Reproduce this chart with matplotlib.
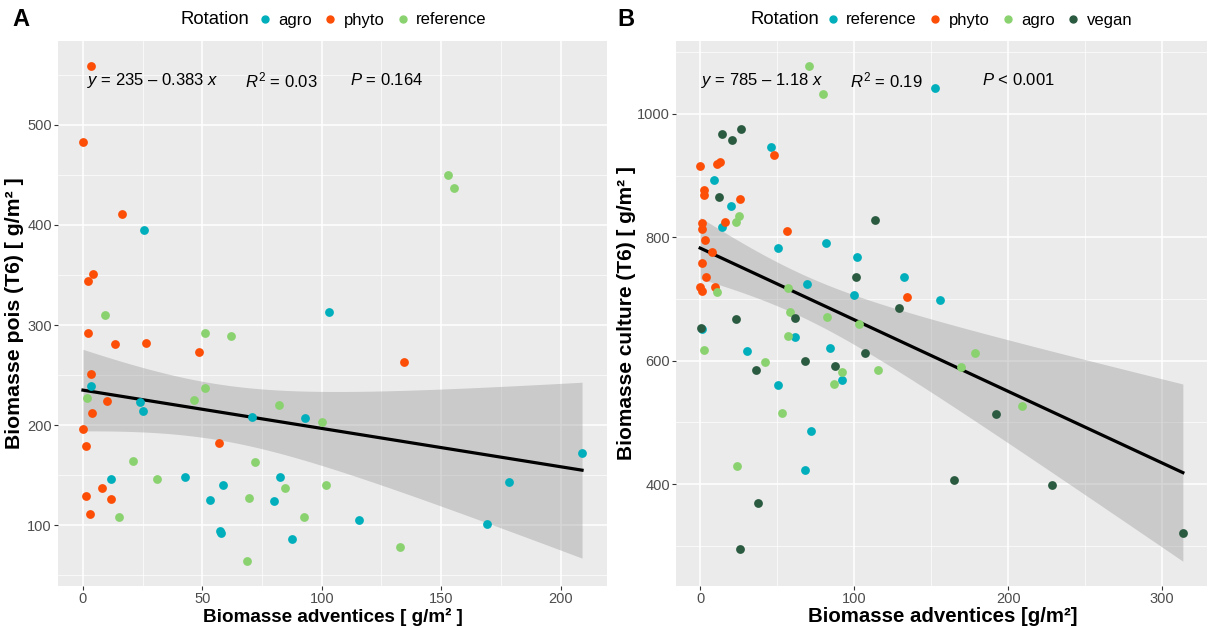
import matplotlib.pyplot as plt
from matplotlib.lines import Line2D
from matplotlib.ticker import FixedLocator
import numpy as np

plt.rcParams['font.family'] = ['Liberation Sans', 'DejaVu Sans']
plt.rcParams['mathtext.fontset'] = 'custom'
plt.rcParams['mathtext.rm'] = 'Liberation Sans'
plt.rcParams['mathtext.it'] = 'Liberation Sans:italic'

# --- panel A : pois ---
a_agro_x = [25.5, 103, 3.5, 23.7, 25, 70.8, 92.8, 11.6, 42.8, 58.6, 82.6, 53.4, 79.8, 57.3, 58, 87.6, 209, 115.6, 178.5, 169]
a_agro_y = [395, 313, 239, 223, 214, 208, 207, 146, 148, 140, 148, 125, 124, 94, 92, 86, 172, 105, 143, 101]
a_phyto_x = [3.5, 0, 16.3, 2, 4.3, 2.2, 13.4, 26.6, 48.5, 3.2, 10, 3.9, 0.1, 1.4, 56.8, 7.8, 1.4, 11.8, 3.1, 134.4]
a_phyto_y = [559, 483, 411, 344, 351, 292, 281, 282, 273, 251, 224, 212, 196, 179, 182, 137, 129, 126, 111, 263]
a_ref_x = [9.3, 51.2, 61.8, 1.7, 50.9, 46.3, 81.9, 100.3, 20.9, 72.1, 31.1, 84.8, 101.7, 69.7, 14.9, 92.5, 68.6, 152.9, 155.5, 132.8]
a_ref_y = [310, 292, 289, 227, 237, 225, 220, 203, 164, 163, 146, 137, 140, 127, 108, 108, 64, 450, 437, 78]

# --- panel B : culture ---
b_ref_x = [45.8, 8.8, 20.3, 14.3, 81.5, 50.7, 102, 69.3, 100, 1.1, 61.8, 84.5, 30.6, 92.4, 50.3, 71.8, 68.4, 152.6, 132.6, 155.9]
b_ref_y = [947, 893, 851, 816, 790, 782, 768, 724, 706, 651, 639, 621, 615, 569, 561, 486, 423, 1042, 735, 699]
b_phyto_x = [48.1, 0, 11.1, 12.8, 2.6, 2.8, 26.1, 16, 0.9, 1.5, 56.5, 3.4, 7.5, 0.9, 3.9, 0, 1.5, 9.4, 134.3]
b_phyto_y = [933, 915, 919, 922, 877, 869, 862, 824, 823, 814, 811, 796, 776, 758, 736, 719, 713, 720, 703]
b_agro_x = [70.8, 79.5, 25, 23.3, 57, 11.1, 103, 58.4, 82.3, 57, 2.6, 42.3, 92.4, 115.5, 87, 53.2, 24.2, 178.7, 169.1, 209]
b_agro_y = [1078, 1032, 834, 824, 718, 712, 659, 679, 671, 640, 617, 598, 582, 585, 563, 516, 430, 612, 590, 527]
b_vegan_x = [13.9, 26.3, 20.5, 12, 113.3, 101.5, 61.8, 23.3, 0.6, 129, 107, 68.2, 36.6, 87.5, 37.4, 26.1, 192.4, 164.6, 228.2, 313.5]
b_vegan_y = [968, 976, 958, 865, 828, 736, 670, 667, 653, 685, 613, 600, 585, 591, 369, 295, 514, 406, 398, 320]

c_teal = '#00AFBB'
c_orange = '#FC4E07'
c_green = '#8AD26F'
c_dark = '#2A5A40'


def panel(ax, groups, xmaj, xmin, ymaj, ymin, tval):
    allx = np.concatenate([np.array(g[0], float) for g in groups])
    ally = np.concatenate([np.array(g[1], float) for g in groups])
    n = len(allx)
    slope, icpt = np.polyfit(allx, ally, 1)
    res = ally - (icpt + slope * allx)
    s = np.sqrt((res ** 2).sum() / (n - 2))
    sxx = ((allx - allx.mean()) ** 2).sum()
    xs = np.linspace(allx.min(), allx.max(), 100)
    fit = icpt + slope * xs
    se = s * np.sqrt(1 / n + (xs - allx.mean()) ** 2 / sxx)
    lo, hi = fit - tval * se, fit + tval * se

    ax.fill_between(xs, lo, hi, color='#999999', alpha=0.4, lw=0, zorder=2)
    ax.plot(xs, fit, color='black', lw=2.3, zorder=3)
    for x, y, c in groups:
        ax.scatter(x, y, s=40, color=c, lw=0, zorder=4)

    x0, x1 = allx.min(), allx.max()
    y0, y1 = min(ally.min(), lo.min()), max(ally.max(), hi.max())
    ax.set_xlim(x0 - 0.05 * (x1 - x0), x1 + 0.05 * (x1 - x0))
    ax.set_ylim(y0 - 0.05 * (y1 - y0), y1 + 0.05 * (y1 - y0))

    ax.set_facecolor('#EBEBEB')
    for sp in ax.spines.values():
        sp.set_visible(False)
    ax.set_xticks(xmaj)
    ax.set_yticks(ymaj)
    ax.xaxis.set_minor_locator(FixedLocator(xmin))
    ax.yaxis.set_minor_locator(FixedLocator(ymin))
    ax.grid(which='major', color='white', lw=1.1)
    ax.grid(which='minor', color='white', lw=0.5)
    ax.set_axisbelow(True)
    ax.tick_params(which='major', length=3, width=0.8, color='#333333',
                   labelcolor='#4D4D4D', labelsize=10.5, pad=1.5)
    ax.tick_params(which='minor', length=0)


fig = plt.figure(figsize=(12.12, 6.28), dpi=100)

axA = fig.add_axes([58 / 1212, 42 / 628, 549 / 1212, 545 / 628])
panel(axA, [(a_agro_x, a_agro_y, c_teal), (a_phyto_x, a_phyto_y, c_orange), (a_ref_x, a_ref_y, c_green)],
      [0, 50, 100, 150, 200], [25, 75, 125, 175], [100, 200, 300, 400, 500], [50, 150, 250, 350, 450, 550], 2.00)
axA.set_xlabel('Biomasse adventices [ g/m² ]', fontsize=13.6, fontweight='bold', va='center')
axA.xaxis.set_label_coords((333 - 58) / 549, -31 / 545)
axA.set_ylabel('Biomasse pois (T6) [ g/m² ]', fontsize=15.3, fontweight='bold', va='center')
axA.yaxis.set_label_coords((14 - 58) / 549, 0.5)
ty = 0.928
eq = dict(fontsize=12, va='center')
axA.text(0.053, ty, r'$y$ = 235 – 0.383 $x$', transform=axA.transAxes, **eq)
axA.text(0.34, ty, r'$R^2$ = 0.03', transform=axA.transAxes, **eq)
axA.text(0.532, ty, r'$P$ = 0.164', transform=axA.transAxes, **eq)

axB = fig.add_axes([676 / 1212, 42 / 628, 531 / 1212, 545 / 628])
panel(axB, [(b_ref_x, b_ref_y, c_teal), (b_phyto_x, b_phyto_y, c_orange), (b_agro_x, b_agro_y, c_green),
            (b_vegan_x, b_vegan_y, c_dark)],
      [0, 100, 200, 300], [50, 150, 250], [400, 600, 800, 1000], [300, 500, 700, 900, 1100], 1.99)
axB.set_xlabel('Biomasse adventices [g/m²]', fontsize=14.7, fontweight='bold', va='center')
axB.xaxis.set_label_coords((943 - 676) / 531, -31 / 545)
axB.set_ylabel('Biomasse culture (T6) [ g/m² ]', fontsize=15, fontweight='bold', va='center')
axB.yaxis.set_label_coords((626 - 676) / 531, 0.5)
axB.text(0.047, ty, r'$y$ = 785 – 1.18 $x$', transform=axB.transAxes, **eq)
axB.text(0.327, ty, r'$R^2$ = 0.19', transform=axB.transAxes, **eq)
axB.text(0.577, ty, r'$P$ < 0.001', transform=axB.transAxes, **eq)

# panel letters
fig.text(12 / 1212, 1 - 20 / 628, 'A', fontsize=17, fontweight='bold', va='center')
fig.text(617 / 1212, 1 - 20 / 628, 'B', fontsize=17, fontweight='bold', va='center')


def top_legend(x_title, x_leg, items):
    fig.text(x_title / 1212, 1 - 20 / 628, 'Rotation', fontsize=13.3, va='center')
    handles = [Line2D([], [], marker='o', ls='', color=c, markersize=5) for _, c in items]
    fig.legend(handles, [l for l, _ in items], loc='center left', ncol=len(items),
               bbox_to_anchor=(x_leg / 1212, 1 - 20 / 628), frameon=False, fontsize=12,
               handlelength=0.8, handletextpad=0.4, columnspacing=0.7, borderpad=0)


top_legend(181, 250, [('agro', c_teal), ('phyto', c_orange), ('reference', c_green)])
top_legend(750, 818, [('reference', c_teal), ('phyto', c_orange), ('agro', c_green), ('vegan', c_dark)])

fig.savefig('out.png', dpi=100)
